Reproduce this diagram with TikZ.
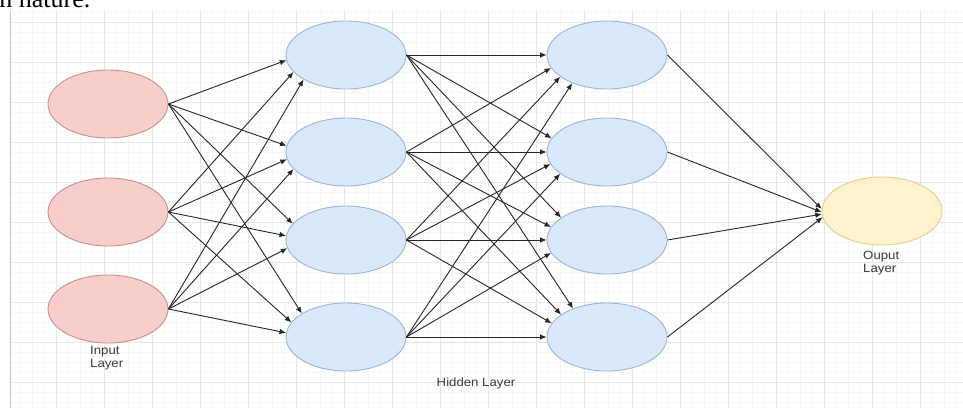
\documentclass[tikz,border=0pt]{standalone}
\usepackage{fontspec}
\setmainfont{Liberation Serif}
\newfontfamily\labelfont{Liberation Sans}
\usetikzlibrary{shapes.geometric,arrows.meta}

\definecolor{inFill}{HTML}{F8CECC}
\definecolor{inLine}{HTML}{C98F8C}
\definecolor{hidFill}{HTML}{DAE8FC}
\definecolor{hidLine}{HTML}{9DB4D6}
\definecolor{outFill}{HTML}{FFF2CC}
\definecolor{outLine}{HTML}{E3CE8E}
\definecolor{edgeCol}{HTML}{262626}
\definecolor{textCol}{HTML}{3A3A3A}
\definecolor{gridMinor}{HTML}{F6F6F6}
\definecolor{gridMajor}{HTML}{E6E6E6}

\tikzset{
  neuron/.style={ellipse, minimum width=120pt, minimum height=68pt, inner sep=0pt, line width=0.9pt},
  inneuron/.style={neuron, fill=inFill, draw=inLine},
  hidneuron/.style={neuron, fill=hidFill, draw=hidLine},
  outneuron/.style={neuron, fill=outFill, draw=outLine},
  link/.style={draw=edgeCol, line width=0.9pt, -{Latex[length=6.5pt,width=5.5pt]}},
  layerlabel/.style={font=\labelfont\fontsize{12}{13}\selectfont, text=textCol, inner sep=0pt, align=left, xscale=1.1, transform shape}
}

\begin{document}
\begin{tikzpicture}[x=1pt, y=-1pt]
  \useasboundingbox (0,0) rectangle (963,408);
  \fill[white] (0,0) rectangle (963,408);

  % page text running above the figure
  \node[anchor=base west, inner sep=0pt, font=\fontsize{26}{30}\selectfont] (pagetext) at (-8,7) {in nature.};

  % drawing canvas grid
  \begin{scope}
    \clip (10,10) rectangle (963,408);
    \foreach \gx in {8,20,...,968} \draw[gridMinor, line width=0.6pt] (\gx,10) -- (\gx,408);
    \foreach \gy in {12,22,...,412} \draw[gridMinor, line width=0.6pt] (10,\gy) -- (963,\gy);
    \foreach \gx in {8,56,...,968} \draw[gridMajor, line width=0.8pt] (\gx,10) -- (\gx,408);
    \foreach \gy in {22,62,...,412} \draw[gridMajor, line width=0.8pt] (10,\gy) -- (963,\gy);
  \end{scope}
  \draw[gray!45, line width=0.8pt] (10,10) -- (10,408);

  % input layer
  \node[inneuron] (i1) at (108,104) {};
  \node[inneuron] (i2) at (108,212) {};
  \node[inneuron] (i3) at (108,309) {};

  % first hidden layer
  \node[hidneuron] (a1) at (346,55) {};
  \node[hidneuron] (a2) at (346,152) {};
  \node[hidneuron] (a3) at (346,240) {};
  \node[hidneuron] (a4) at (346,337) {};

  % second hidden layer
  \node[hidneuron] (b1) at (607,55) {};
  \node[hidneuron] (b2) at (607,152) {};
  \node[hidneuron] (b3) at (607,240) {};
  \node[hidneuron] (b4) at (607,337) {};

  % output layer
  \node[outneuron] (o) at (882,211) {};

  % connections: leave from the east point, land on the left side of the target
  \foreach \s/\ys in {i1/104,i2/212,i3/309}
    \foreach \t/\yt in {a1/55,a2/152,a3/240,a4/337} {
      \pgfmathtruncatemacro\ang{180+max(-30,min(35,0.12*(\ys-\yt)))}
      \draw[link] (\s.east) -- (\t.\ang);
    }
  \foreach \s/\ys in {a1/55,a2/152,a3/240,a4/337}
    \foreach \t/\yt in {b1/55,b2/152,b3/240,b4/337} {
      \pgfmathtruncatemacro\ang{180+max(-40,min(40,0.14*(\ys-\yt)))}
      \draw[link] (\s.east) -- (\t.\ang);
    }
  \foreach \s/\ys in {b1/55,b2/152,b3/240,b4/337} {
      \pgfmathtruncatemacro\ang{183+max(-10,min(10,0.03*(\ys-211)))}
      \draw[link] (\s.east) -- (o.\ang);
    }

  % layer captions
  \node[layerlabel, anchor=base west] (inlabel) at (90,367) {Input\\Layer};
  \node[layerlabel, anchor=base] (hidlabel) at (476,386) {Hidden Layer};
  \node[layerlabel, anchor=base west] (outlabel) at (863,272) {Ouput\\Layer};
\end{tikzpicture}
\end{document}
